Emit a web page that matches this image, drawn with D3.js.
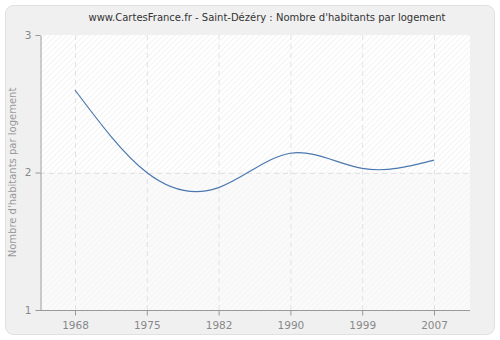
<!DOCTYPE html>
<html>
<head>
<meta charset="utf-8">
<script src="https://cdn.jsdelivr.net/npm/d3@7"></script>
<style>
  body { margin: 0; background: #fff; }
  text { font-family: "DejaVu Sans", Verdana, sans-serif; }
</style>
</head>
<body>
<svg id="chart" width="500" height="340"></svg>
<script>
// data
var years = ["1968", "1975", "1982", "1990", "1999", "2007"];
var values = [2.60, 2.00, 1.89, 2.14, 2.03, 2.09];
var yTicks = [1, 2, 3];

var width = 500, height = 340;
var margin = {top: 35, right: 30, bottom: 30, left: 40};

var svg = d3.select("#chart");

// hatch patterns
var defs = svg.append("defs");
var p1 = defs.append("pattern").attr("id", "hatchTop").attr("patternUnits", "userSpaceOnUse")
  .attr("width", 4).attr("height", 4).attr("patternTransform", "rotate(45)");
p1.append("rect").attr("width", 4).attr("height", 4).attr("fill", "#ffffff");
p1.append("line").attr("x1", 0).attr("y1", 0).attr("x2", 0).attr("y2", 4)
  .attr("stroke", "#ececec").attr("stroke-width", 1.2);
var p2 = defs.append("pattern").attr("id", "hatchBot").attr("patternUnits", "userSpaceOnUse")
  .attr("width", 4).attr("height", 4).attr("patternTransform", "rotate(45)");
p2.append("rect").attr("width", 4).attr("height", 4).attr("fill", "#fafafa");
p2.append("line").attr("x1", 0).attr("y1", 0).attr("x2", 0).attr("y2", 4)
  .attr("stroke", "#f2f2f2").attr("stroke-width", 1.2);

// outer panel
svg.append("rect").attr("x", 5.5).attr("y", 5.5).attr("width", 489).attr("height", 329)
  .attr("rx", 8).attr("fill", "#f0f0f0").attr("stroke", "#e0e0e0");

svg.append("text").attr("x", 267).attr("y", 21).attr("text-anchor", "middle")
  .attr("font-size", 10).attr("fill", "#333")
  .text("www.CartesFrance.fr - Saint-Dézéry : Nombre d'habitants par logement");

var x = d3.scalePoint().domain(years).range([75, 434]);
var y = d3.scaleLinear().domain([1, 3]).range([height - margin.bottom, margin.top]);

var x0 = margin.left, x1 = width - margin.right;

// plot background
svg.append("rect").attr("x", x0).attr("y", y(3)).attr("width", x1 - x0).attr("height", y(2) - y(3))
  .attr("fill", "url(#hatchTop)");
svg.append("rect").attr("x", x0).attr("y", y(2)).attr("width", x1 - x0).attr("height", y(1) - y(2))
  .attr("fill", "url(#hatchBot)");

// grid
var grid = svg.append("g").attr("stroke", "#e2e2e2").attr("stroke-dasharray", "5,4");
grid.selectAll(".vg").data(years).enter().append("line")
  .attr("x1", function(d) { return x(d) + 0.5; }).attr("x2", function(d) { return x(d) + 0.5; })
  .attr("y1", y(3)).attr("y2", y(1));
grid.append("line").attr("x1", x0).attr("x2", x1)
  .attr("y1", Math.round(y(2)) + 0.5).attr("y2", Math.round(y(2)) + 0.5);

// axes
var xAxis = svg.append("g").attr("transform", "translate(0," + (y(1) + 0.5) + ")")
  .call(d3.axisBottom(x).tickSize(5).tickPadding(6).tickSizeOuter(0));
xAxis.select(".domain").attr("d", "M" + x0 + ",0H" + x1);

var yAxis = svg.append("g").attr("transform", "translate(" + (x0 + 0.5) + ",0)")
  .call(d3.axisLeft(y).tickValues(yTicks).tickFormat(d3.format("d")).tickSize(5).tickPadding(4).tickSizeOuter(0));

svg.selectAll(".domain, .tick line").attr("stroke", "#999");
svg.selectAll(".tick text").attr("fill", "#888").attr("font-size", 10.5)
  .style("font-family", "'DejaVu Sans', Verdana, sans-serif");

svg.append("text").attr("transform", "translate(16," + ((y(1) + y(3)) / 2) + ") rotate(-90)")
  .attr("text-anchor", "middle").attr("font-size", 10).attr("fill", "#999")
  .text("Nombre d'habitants par logement");

// line
var line = d3.line()
  .x(function(d, i) { return x(years[i]); })
  .y(function(d) { return y(d); })
  .curve(d3.curveNatural);
svg.append("path").datum(values).attr("d", line)
  .attr("fill", "none").attr("stroke", "#4a78b0").attr("stroke-width", 1.2);
</script>
</body>
</html>
